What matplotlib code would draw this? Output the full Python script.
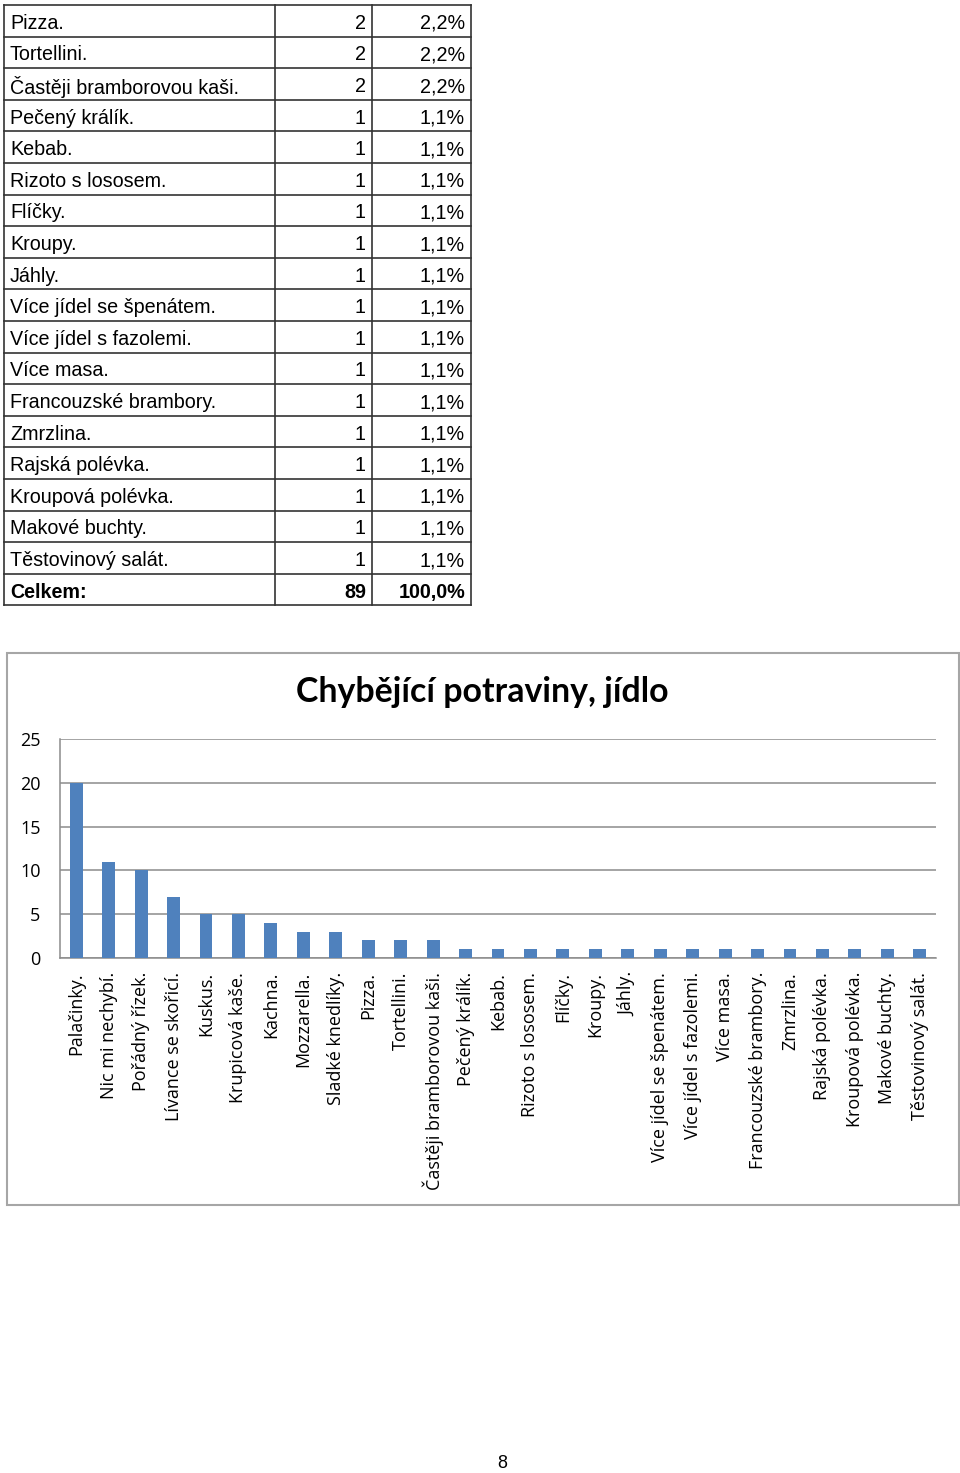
import matplotlib
matplotlib.use("Agg")
import matplotlib.pyplot as plt
from matplotlib.patches import Rectangle

# ---------------- data ----------------
table_items = ["Pizza.", "Tortellini.", "Častěji bramborovou kaši.", "Pečený králík.",
               "Kebab.", "Rizoto s lososem.", "Flíčky.", "Kroupy.", "Jáhly.",
               "Více jídel se špenátem.", "Více jídel s fazolemi.", "Více masa.",
               "Francouzské brambory.", "Zmrzlina.", "Rajská polévka.",
               "Kroupová polévka.", "Makové buchty.", "Těstovinový salát."]
table_counts = [2, 2, 2, 1, 1, 1, 1, 1, 1, 1, 1, 1, 1, 1, 1, 1, 1, 1]
table_pcts = ["2,2%", "2,2%", "2,2%"] + ["1,1%"] * 15
total_label = "Celkem:"
total_count = 89
total_pct = "100,0%"

categories = ["Palačinky.", "Nic mi nechybí.", "Pořádný řízek.", "Lívance se skořicí.",
              "Kuskus.", "Krupicová kaše.", "Kachna.", "Mozzarella.", "Sladké knedlíky.",
              "Pizza.", "Tortellini.", "Častěji bramborovou kaši.", "Pečený králík.",
              "Kebab.", "Rizoto s lososem.", "Flíčky.", "Kroupy.", "Jáhly.",
              "Více jídel se špenátem.", "Více jídel s fazolemi.", "Více masa.",
              "Francouzské brambory.", "Zmrzlina.", "Rajská polévka.",
              "Kroupová polévka.", "Makové buchty.", "Těstovinový salát."]
values = [20, 11, 10, 7, 5, 5, 4, 3, 3, 2, 2, 2, 1, 1, 1, 1, 1, 1, 1, 1, 1, 1, 1, 1, 1, 1, 1]
yticks = [0, 5, 10, 15, 20, 25]
title = "Chybějící potraviny, jídlo"
page_number = "8"

W, H = 960, 1473
fig = plt.figure(figsize=(W / 100, H / 100), dpi=100)

# page overlay axes in pixel coordinates
page = fig.add_axes([0, 0, 1, 1])
page.set_xlim(0, W)
page.set_ylim(H, 0)
page.axis("off")

# ---------------- table ----------------
x0, x1, x2, x3 = 4, 275, 372, 471
top = 5
row_h = 31.6
rows = list(zip(table_items, table_counts, table_pcts)) + [(total_label, total_count, total_pct)]
n = len(rows)
lc = "#333333"
for i in range(n + 1):
    y = top + i * row_h
    page.plot([x0, x3], [y, y], color=lc, lw=1.2)
for x in (x0, x1, x2, x3):
    page.plot([x, x], [top, top + n * row_h], color=lc, lw=1.2)
tfont = ["Liberation Sans", "DejaVu Sans"]
for i, (name, cnt, pct) in enumerate(rows):
    yc = top + (i + 0.58) * row_h
    bold = (i == n - 1)
    fw = "bold" if bold else "normal"
    page.text(x0 + 6, yc, name, fontsize=14.2, family=tfont, weight=fw, va="center", ha="left", color="black")
    page.text(x2 - 6, yc, str(cnt), fontsize=14.2, family=tfont, weight=fw, va="center", ha="right", color="black")
    page.text(x3 - 6, yc, pct, fontsize=14.2, family=tfont, weight=fw, va="center", ha="right", color="black")

# ---------------- chart frame ----------------
page.add_patch(Rectangle((7, 653), 952, 552, fill=False, edgecolor="#A6A6A6", lw=1.5))
page.text(482, 692, title, fontsize=24.4, family=["Lato", "DejaVu Sans"], weight="bold",
          ha="center", va="center", color="black")
page.text(502, 1463, page_number, fontsize=13, family=["Liberation Sans", "DejaVu Sans"],
          ha="center", va="center", color="black")

# ---------------- bar chart ----------------
px_l, px_r, px_t, px_b = 60, 936, 739, 958
ax = fig.add_axes([px_l / W, 1 - px_b / H, (px_r - px_l) / W, (px_b - px_t) / H])
xs = list(range(len(categories)))
ax.bar(xs, values, width=0.4, color="#4F81BD", zorder=3)
ax.set_xlim(-0.5, len(categories) - 0.5)
ax.set_ylim(0, 25)
ax.set_yticks(yticks)
ax.set_yticklabels([str(v) for v in yticks], fontsize=13, family=["Open Sans", "DejaVu Sans"])
ax.yaxis.grid(True, color="#8C8C8C", lw=1.1, zorder=0)
ax.set_axisbelow(True)
ax.set_xticks(xs)
ax.set_xticklabels(categories, rotation=90, fontsize=13, family=["Open Sans", "DejaVu Sans"],
                   va="top", ha="center")
ax.tick_params(axis="x", length=0, pad=10)
ax.tick_params(axis="y", length=0, pad=14)
for s in ("top", "right"):
    ax.spines[s].set_visible(False)
ax.spines["left"].set_color("#8C8C8C")
ax.spines["bottom"].set_color("#8C8C8C")
ax.spines["left"].set_linewidth(1.1)
ax.spines["bottom"].set_linewidth(1.1)
ax.set_facecolor("none")

fig.savefig("out.png", dpi=100, facecolor="white")
